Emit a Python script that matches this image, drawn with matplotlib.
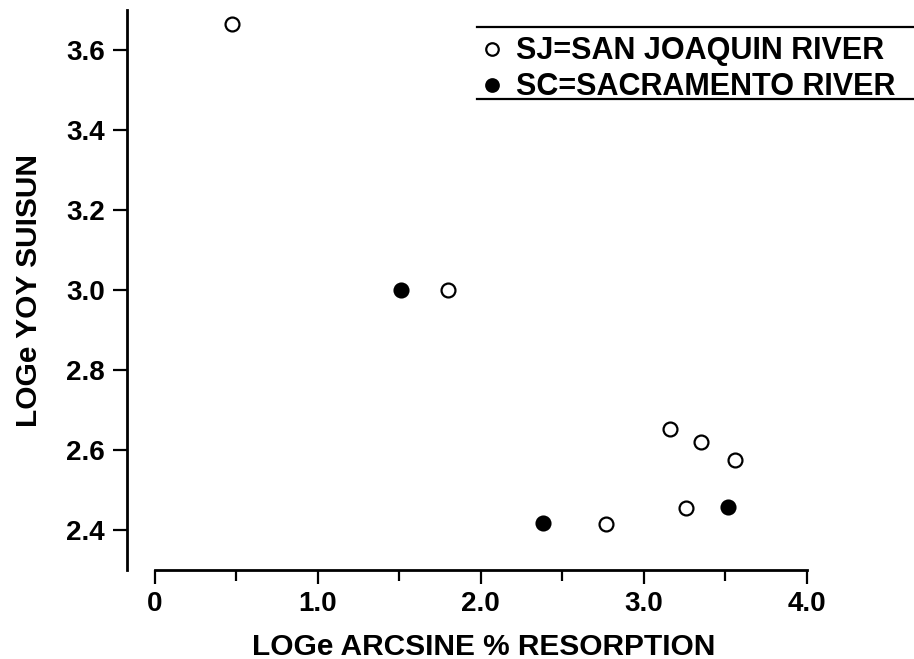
import matplotlib
matplotlib.use("Agg")
import matplotlib.pyplot as plt
from matplotlib.lines import Line2D

plt.rcParams['font.family'] = ['Liberation Sans', 'DejaVu Sans']
plt.rcParams['font.weight'] = 'bold'

# San Joaquin River (open circles)
sj_x = [0.47, 1.80, 3.16, 3.35, 3.56, 2.77, 3.26]
sj_y = [3.665, 3.0, 2.652, 2.620, 2.575, 2.415, 2.455]
# Sacramento River (filled circles)
sc_x = [1.51, 2.38, 3.52]
sc_y = [3.0, 2.417, 2.457]

xticks = [0, 1, 2, 3, 4]
xticklabels = ['0', '1.0', '2.0', '3.0', '4.0']
yticks = [2.4, 2.6, 2.8, 3.0, 3.2, 3.4, 3.6]

fig = plt.figure(figsize=(9.14, 6.59), dpi=100)
ax = fig.add_axes([127/914, 1-570/659, 1-127/914, 560/659])

ax.plot(sj_x, sj_y, 'o', ms=10, mfc='white', mec='black', mew=1.6,
        label='SJ=SAN JOAQUIN RIVER', clip_on=False)
ax.plot(sc_x, sc_y, 'o', ms=10, mfc='black', mec='black', mew=1.6,
        label='SC=SACRAMENTO RIVER', clip_on=False)

ax.set_xlim(-0.172, 4.66)
ax.set_ylim(2.3, 3.7)
ax.spines['top'].set_visible(False)
ax.spines['right'].set_visible(False)
ax.spines['left'].set_linewidth(2)
ax.spines['bottom'].set_linewidth(2)
ax.spines['bottom'].set_bounds(0, 4)

ax.set_xticks(xticks)
ax.set_xticklabels(xticklabels)
ax.set_xticks([0.5, 1.5, 2.5, 3.5], minor=True)
ax.set_yticks(yticks)
ax.set_yticklabels(['%.1f' % v for v in yticks])
ax.tick_params(axis='both', which='major', length=10, width=1.6,
               labelsize=20, direction='out')
ax.tick_params(axis='x', which='minor', length=8, width=1.6)
ax.tick_params(axis='x', pad=5)
ax.tick_params(axis='y', pad=6)

ax.set_xlabel('LOGe ARCSINE % RESORPTION', fontsize=21.5, fontweight='bold')
ax.set_ylabel('LOGe YOY SUISUN', fontsize=21.5, fontweight='bold')
ax.xaxis.set_label_coords((2.02 + 0.172) / 4.832, -0.112)
ax.yaxis.set_label_coords(-0.107, 0.5)

leg = ax.legend(loc='upper left', bbox_to_anchor=(466/914, 1-24/659),
                bbox_transform=fig.transFigure, frameon=False,
                prop={'size': 22, 'weight': 'bold'}, handletextpad=0.35,
                handlelength=0.9, labelspacing=0.2, borderaxespad=0)
for h in leg.legend_handles:
    h.set_markersize(9)

fig.add_artist(Line2D([477/914, 913/914], [1-27/659, 1-27/659],
                      transform=fig.transFigure, color='black', lw=1.6))
fig.add_artist(Line2D([477/914, 913/914], [1-99/659, 1-99/659],
                      transform=fig.transFigure, color='black', lw=1.6))

fig.savefig('out.png', dpi=100)
